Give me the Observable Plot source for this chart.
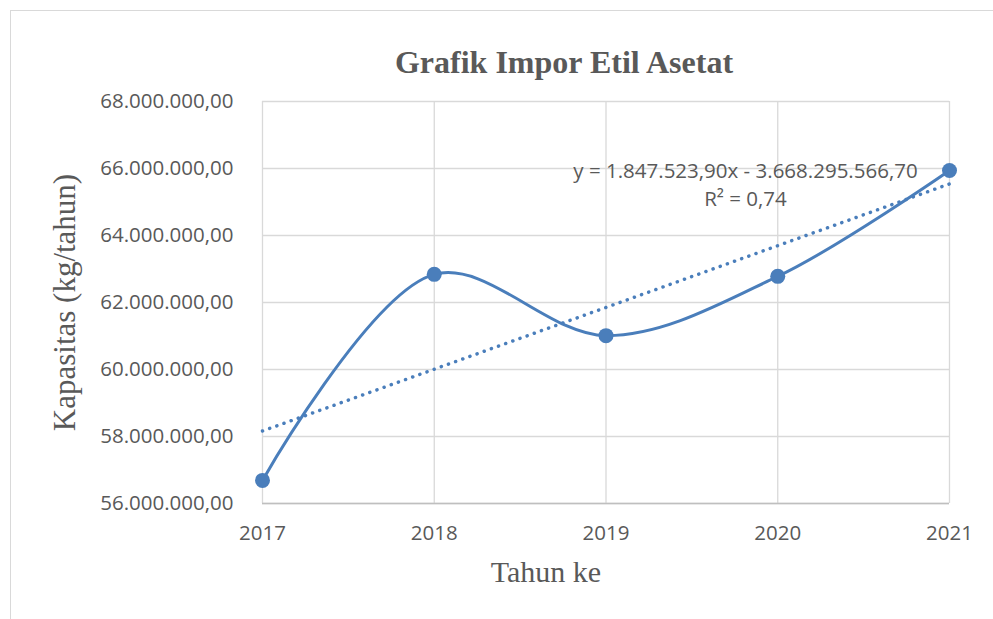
<!DOCTYPE html>
<html>
<head>
<meta charset="utf-8">
<script src="https://cdn.jsdelivr.net/npm/d3@7"></script>
<script src="https://cdn.jsdelivr.net/npm/@observablehq/plot@0.6"></script>
<style>
  html, body { margin: 0; padding: 0; background: #fff; overflow: hidden; width: 993px; height: 619px; }
  #wrap { position: relative; width: 993px; height: 619px; }
  #border { position: absolute; left: 10px; top: 10px; width: 1100px; height: 800px; border: 1px solid #d9d9d9; box-sizing: border-box; pointer-events: none; }
  #chart { position: absolute; left: 0; top: 0; }
</style>
</head>
<body>
<div id="wrap"><div id="chart"></div><div id="border"></div></div>
<script>
const years = [2017, 2018, 2019, 2020, 2021];
const capacity = [56690000, 62840000, 61010000, 62780000, 65940000];
const yTicks = [56e6, 58e6, 60e6, 62e6, 64e6, 66e6, 68e6];
const titleText = "Grafik Impor Etil Asetat";
const xLabel = "Tahun ke";
const yLabel = "Kapasitas (kg/tahun)";
const eqText = "y = 1.847.523,90x - 3.668.295.566,70";
const r2Text = "R² = 0,74";

const data = years.map((t, i) => ({year: t, value: capacity[i]}));
const idFmt = d3.formatLocale({decimal: ",", thousands: ".", grouping: [3], currency: ["", ""]}).format(",.2f");

const blue = "#4a7ebb";
const gray = "#595959";
const sans = "'Open Sans', 'Liberation Sans', sans-serif";
const serif = "'Liberation Serif', 'Times New Roman', serif";

const chart = Plot.plot({
  width: 993,
  height: 619,
  marginLeft: 262,
  marginRight: 44,
  marginTop: 101,
  marginBottom: 116,
  style: {background: "transparent", fontFamily: sans, color: gray},
  x: {domain: [2017, 2021], label: null},
  y: {domain: [56e6, 68e6], label: null},
  marks: [
    Plot.gridY(yTicks, {stroke: "#d9d9d9", strokeOpacity: 1, strokeWidth: 1.3}),
    Plot.gridX(years, {stroke: "#d9d9d9", strokeOpacity: 1, strokeWidth: 1.3}),
    Plot.ruleY([56e6], {stroke: "#bfbfbf", strokeWidth: 1.5}),
    Plot.axisY(yTicks, {tickSize: 0, tickPadding: 29, tickFormat: idFmt, fontSize: 20.5, fill: gray, label: null}),
    Plot.axisX(years, {tickSize: 0, tickPadding: 22, tickFormat: d => String(d), fontSize: 20.5, fill: gray, label: null}),
    Plot.linearRegressionY(data, {x: "year", y: "value", ci: 0, stroke: blue, strokeWidth: 3.5, strokeDasharray: "0.1,7.5", strokeLinecap: "round"}),
    Plot.line(data, {x: "year", y: "value", curve: "catmull-rom", stroke: blue, strokeWidth: 3}),
    Plot.dot(data, {x: "year", y: "value", r: 7.5, fill: blue, stroke: "none"}),
    Plot.text([titleText], {frameAnchor: "top", text: d => d, dx: -42, dy: -39, fontFamily: serif, fontWeight: "bold", fontSize: 32, fill: gray, lineAnchor: "middle"}),
    Plot.text([xLabel], {frameAnchor: "bottom", text: d => d, dx: -60, dy: 69, fontFamily: serif, fontSize: 30, fill: gray, lineAnchor: "middle"}),
    Plot.text([yLabel], {frameAnchor: "left", text: d => d, dx: -197, rotate: -90, textAnchor: "middle", fontFamily: serif, fontSize: 31, fill: gray, lineAnchor: "middle"}),
    Plot.text([eqText], {frameAnchor: "top-right", text: d => d, dx: -204, dy: 70, textAnchor: "middle", fontSize: 20.5, fill: gray, lineAnchor: "middle"}),
    Plot.text([r2Text], {frameAnchor: "top-right", text: d => d, dx: -204, dy: 98, textAnchor: "middle", fontSize: 20.5, fill: gray, lineAnchor: "middle"})
  ]
});
document.getElementById("chart").appendChild(chart);
</script>
</body>
</html>
